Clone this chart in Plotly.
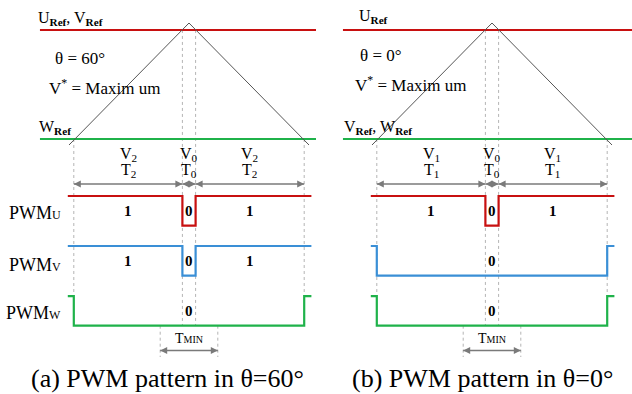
import plotly.graph_objects as go

W, H = 632, 394

# Carrier triangle: time in carrier half-periods (apex at 0), level normalised 0..1
carrier_t = [-1.0, 0.0, 1.0]
carrier_v = [0.0, 1.0, 0.0]

# Reference voltage levels
ref_high = 0.943
ref_low = 0.049
ref_span_a = [-1.242, 1.192]
ref_span_b = [-1.242, 1.167]

# Switching instants
t_zero = [-0.055, 0.055]    # zero-vector window (T0)
t_edge = [-0.96, 0.96]      # outer switching edges
t_min = [-0.24, 0.24]       # minimum pulse width window

# PWM segment boundaries and switch states
pwm_bounds = [-1.01, -0.96, -0.055, 0.055, 0.96, 1.02]
pwm_a = {"U": [1, 1, 0, 1, 1], "V": [1, 1, 0, 1, 1], "W": [1, 0, 0, 0, 1]}
pwm_b = {"U": [1, 1, 0, 1, 1], "V": [1, 0, 0, 0, 1], "W": [1, 0, 0, 0, 1]}
labelled_a = {"U": [1, 2, 3], "V": [1, 2, 3], "W": [2]}
labelled_b = {"U": [1, 2, 3], "V": [2], "W": [2]}

# Vector names per interval
vec_a = ["2", "0", "2"]
vec_b = ["1", "0", "1"]

RED, BLUE, GREEN = "#c81010", "#3a8fd6", "#1fb24a"
GRAY = "#7a7a7a"
SERIF = "Liberation Serif"

LANE_TOP = {"U": -0.418, "V": -0.828, "W": -1.238}
LANE_DEPTH = 0.243
LANE_COLOR = {"U": RED, "V": BLUE, "W": GREEN}
Y_VEC, Y_TIME, Y_ARROW = -0.074, -0.213, -0.320
Y_TMIN_TXT, Y_TMIN_ARR, Y_TMIN_END = -1.59, -1.684, -1.738

fig = go.Figure()


def line(xref, xs, ys, color, width, dash="solid", shape="linear"):
    fig.add_trace(go.Scatter(
        x=xs, y=ys, mode="lines", xaxis=xref, yaxis="y",
        line=dict(color=color, width=width, dash=dash, shape=shape),
        hoverinfo="skip", showlegend=False))


def text(xref, x, y, s, size, xanchor="center", bold=False):
    fig.add_annotation(
        xref=xref, yref="y", x=x, y=y, text=("<b>%s</b>" % s) if bold else s,
        showarrow=False, xanchor=xanchor, yanchor="middle",
        font=dict(family=SERIF, size=size, color="black"))


def arrow(xref, x0, x1, y):
    # double-headed dimension arrow: a line with arrow markers at both ends
    fig.add_trace(go.Scatter(
        x=[x0, x1], y=[y, y], mode="lines+markers", xaxis=xref, yaxis="y",
        line=dict(color=GRAY, width=1.4),
        marker=dict(symbol=["arrow-left", "arrow-right"], size=7, color=GRAY,
                    line=dict(width=0)),
        hoverinfo="skip", showlegend=False))


def panel(xref, span, pwm, labelled, vec):
    w_low = LANE_TOP["W"] - LANE_DEPTH
    # guide lines
    for t in t_zero:
        line(xref, [t, t], [ref_high, w_low], "#b4b4b4", 1, "dot")
    for t in t_edge:
        line(xref, [t, t], [ref_low, LANE_TOP["W"]], "#b4b4b4", 1, "dot")
    for t in t_min:
        line(xref, [t, t], [w_low, Y_TMIN_END], "#b4b4b4", 1, "dot")
    # references and carrier
    line(xref, span, [ref_high, ref_high], RED, 2)
    line(xref, span, [ref_low, ref_low], GREEN, 2)
    line(xref, carrier_t, carrier_v, "#555555", 1)
    # PWM waveforms
    for ph in ["U", "V", "W"]:
        states = pwm[ph]
        ys = [LANE_TOP[ph] if s else LANE_TOP[ph] - LANE_DEPTH for s in states]
        line(xref, pwm_bounds, ys + [ys[-1]], LANE_COLOR[ph], 2.2, shape="hv")
        mid_y = LANE_TOP[ph] - LANE_DEPTH / 2
        for i in labelled[ph]:
            xm = (pwm_bounds[i] + pwm_bounds[i + 1]) / 2
            text(xref, xm, mid_y, str(states[i]), 15, bold=True)
    # interval labels and arrows
    for i, k in enumerate(vec):
        xm = (pwm_bounds[i + 1] + pwm_bounds[i + 2]) / 2
        text(xref, xm, Y_VEC, "V<sub>%s</sub>" % k, 16)
        text(xref, xm, Y_TIME, "T<sub>%s</sub>" % k, 16)
        arrow(xref, pwm_bounds[i + 1], pwm_bounds[i + 2], Y_ARROW)
    # minimum pulse width
    arrow(xref, t_min[0], t_min[1], Y_TMIN_ARR)
    text(xref, 0, Y_TMIN_TXT, "T<span style='font-size:10px'>MIN</span>", 14)


panel("x", ref_span_a, pwm_a, labelled_a, vec_a)
panel("x2", ref_span_b, pwm_b, labelled_b, vec_b)


def ptext(px, py, s, size, xanchor="left", family=SERIF):
    fig.add_annotation(
        xref="paper", yref="paper", x=px / W, y=1 - py / H, text=s,
        showarrow=False, xanchor=xanchor, yanchor="middle",
        font=dict(family=family, size=size, color="black"))


REF = "<sub><b>Ref</b></sub>"
ptext(36, 19, "U%s, V%s" % (REF, REF), 16)
ptext(53, 59, "θ = 60°", 17)
ptext(47, 87, "V<sup>*</sup> = Maxim um", 17)
ptext(37, 127, "W%s" % REF, 16)
ptext(357, 17, "U%s" % REF, 16)
ptext(358, 55, "θ = 0°", 17)
ptext(353, 84, "V<sup>*</sup> = Maxim um", 17)
ptext(342, 127, "V%s, W%s" % (REF, REF), 16)

for ph, py in zip(["U", "V", "W"], [213, 265, 313]):
    ptext(63, py, "PWM<span style='font-size:12px'>%s</span>" % ph, 18, "right")

ptext(168, 378, "(a) PWM pattern in θ=60°", 26, "center")
ptext(482, 378, "(b) PWM pattern in θ=0°", 26, "center")

fig.update_layout(
    width=W, height=H, margin=dict(l=0, r=0, t=0, b=0),
    font=dict(family=SERIF, size=16, color="black"),
    paper_bgcolor="white", plot_bgcolor="white", showlegend=False,
    xaxis=dict(domain=[0, 0.5], range=[-1.575, 1.0583], visible=False,
               fixedrange=True),
    xaxis2=dict(domain=[0.5, 1], range=[-1.4667, 1.1667], visible=False,
                fixedrange=True, anchor="y"),
    yaxis=dict(range=[-2.041, 1.1885], visible=False, fixedrange=True),
)

fig.write_html("out.html")
